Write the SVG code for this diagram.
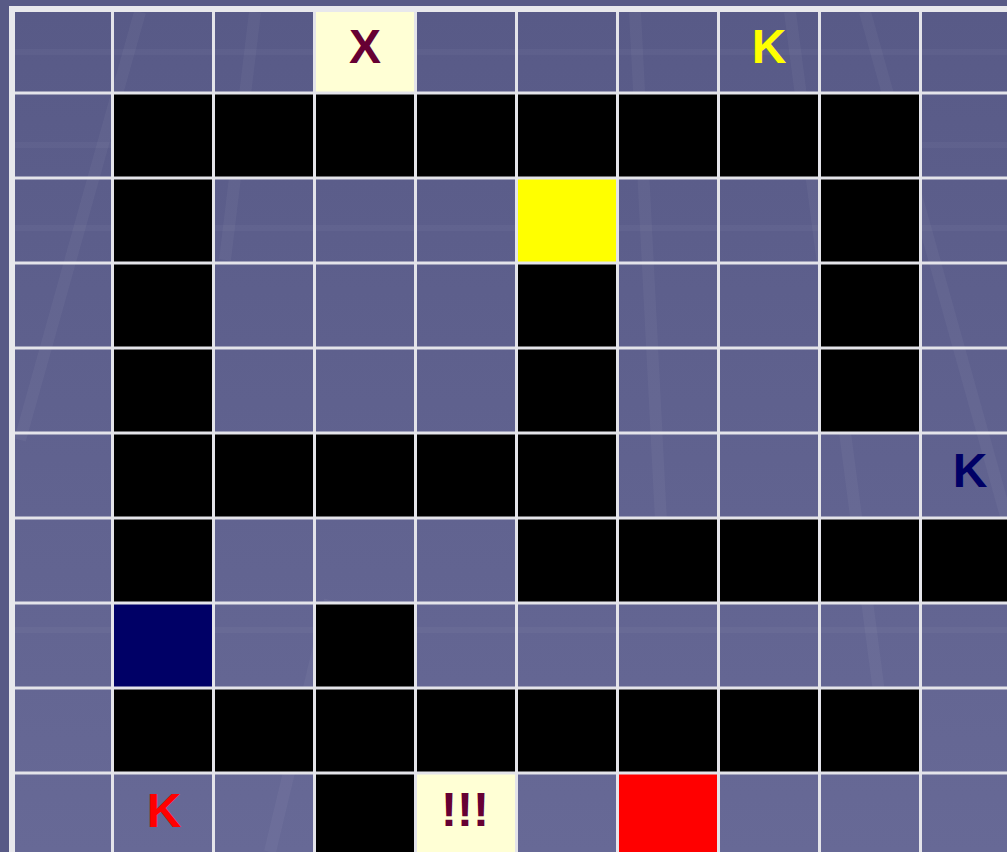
<svg xmlns="http://www.w3.org/2000/svg" width="1007" height="852" viewBox="0 0 1007 852">
<defs>
<linearGradient id="bg" x1="0" y1="0" x2="0" y2="1">
<stop offset="0" stop-color="#585a87"/>
<stop offset="1" stop-color="#676996"/>
</linearGradient>
<style>
.blk{fill:#000}
.grid{stroke:#e4e4ea;stroke-width:3;fill:none}
.border{fill:#e8e8ec}
.lbl{font-family:"Liberation Sans",Arial,sans-serif;font-weight:bold;font-size:48px;text-anchor:middle}
.stripe{stroke:#ffffff;stroke-opacity:0.04;stroke-width:12;fill:none}
.hstripe{stroke:#ffffff;stroke-opacity:0.035;stroke-width:6;fill:none}
</style>
</defs>
<rect width="1007" height="852" fill="#585a86"/>
<rect x="12" y="9" width="995" height="843" fill="url(#bg)"/>
<g id="stripes">
<path class="stripe" d="M140 12 L20 440"/>
<path class="stripe" d="M255 12 L225 260"/>
<path class="stripe" d="M635 12 L665 600"/>
<path class="stripe" d="M865 12 L1007 520"/>
<path class="stripe" d="M790 12 L880 700"/>
<path class="stripe" d="M330 600 L270 852"/>
<path class="hstripe" d="M12 52 H1007"/>
<path class="hstripe" d="M12 145 H1007"/>
<path class="hstripe" d="M12 228 H1007"/>
<path class="hstripe" d="M12 630 H1007"/>
</g>
<g id="cells">
<g id="r1"><rect class="blk" x="112" y="93" width="808" height="85"/></g>
<g id="r2"><rect class="blk" x="112" y="178" width="101" height="85"/><rect x="516" y="178" width="101" height="85" fill="#ffff00"/><rect class="blk" x="819" y="178" width="101" height="85"/></g>
<g id="r3"><rect class="blk" x="112" y="263" width="101" height="85"/><rect class="blk" x="516" y="263" width="101" height="85"/><rect class="blk" x="819" y="263" width="101" height="85"/></g>
<g id="r4"><rect class="blk" x="112" y="348" width="101" height="85"/><rect class="blk" x="516" y="348" width="101" height="85"/><rect class="blk" x="819" y="348" width="101" height="85"/></g>
<g id="r5"><rect class="blk" x="112" y="433" width="505" height="85"/></g>
<g id="r6"><rect class="blk" x="112" y="518" width="101" height="85"/><rect class="blk" x="516" y="518" width="491" height="85"/></g>
<g id="r7"><rect x="112" y="603" width="101" height="85" fill="#000066"/><rect class="blk" x="314" y="603" width="101" height="85"/></g>
<g id="r8"><rect class="blk" x="112" y="688" width="808" height="85"/></g>
<g id="r9"><rect class="blk" x="314" y="773" width="101" height="79"/><rect x="415" y="773" width="101" height="79" fill="#ffffd5"/><rect x="617" y="773" width="101" height="79" fill="#ff0000"/></g>
<g id="r0"><rect x="314" y="9" width="101" height="84" fill="#ffffd5"/></g>
</g>
<g id="gridlines">
<path class="grid" d="M112.5 12V852 M213.5 12V852 M314.5 12V852 M415.5 12V852 M516.5 12V852 M617.5 12V852 M718.5 12V852 M819.5 12V852 M920.5 12V852"/>
<path class="grid" d="M15 93H1007 M15 178H1007 M15 263H1007 M15 348H1007 M15 433H1007 M15 518H1007 M15 603H1007 M15 688H1007 M15 773H1007"/>
<rect class="border" x="9" y="6" width="998" height="6"/>
<rect class="border" x="9" y="6" width="6" height="846"/>
</g>
<g id="labels">
<text id="lblX" class="lbl" x="365" y="63" fill="#660033">X</text>
<text id="lblKy" class="lbl" x="769" y="63" fill="#ffff00">K</text>
<text id="lblKn" class="lbl" x="970" y="487" fill="#000066">K</text>
<text id="lblKr" class="lbl" x="164" y="827" fill="#ff0000">K</text>
<text id="lblEx" class="lbl" x="465" y="826" fill="#660033">!!!</text>
</g>
</svg>
